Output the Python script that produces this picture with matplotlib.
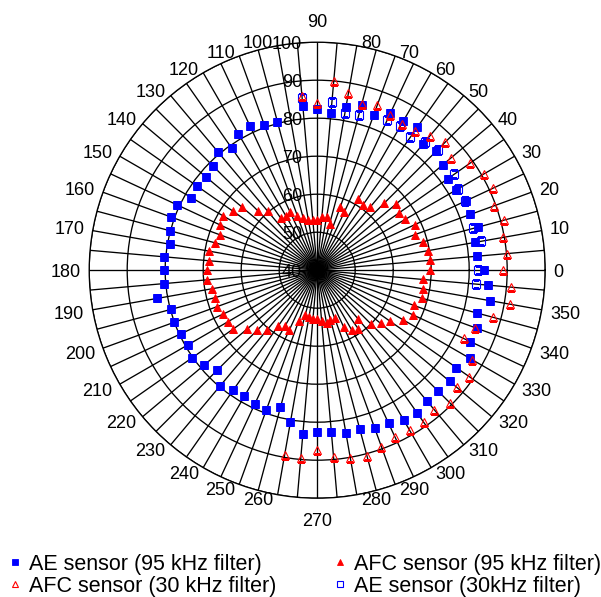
import numpy as np
import matplotlib.pyplot as plt
from matplotlib import transforms

plt.rcParams['font.family'] = ['Liberation Sans', 'DejaVu Sans']

# AE sensor, 95 kHz filter (no point at 100 deg)
ang_ae95 = [0, 5, 10, 15, 20, 25, 30, 35, 40, 45, 50, 55, 60, 65, 70, 75, 80, 85, 90, 95,
            105, 110, 115, 120, 125, 130, 135, 140, 145, 150, 155, 160, 165, 170, 175,
            180, 185, 190, 195, 200, 205, 210, 215, 220, 225, 230, 235, 240, 245, 250,
            255, 260, 265, 270, 275, 280, 285, 290, 295, 300, 305, 310, 315, 320, 325,
            330, 335, 340, 345, 350, 355]
ae95 = [84.0, 82.3, 82.3, 83.7, 82.9, 83.1, 82.1, 82.0, 83.1, 84.2, 83.4, 86.0, 85.2, 85.6,
        83.6, 85.1, 83.6, 81.6, 82.3, 83.5,
        80.5, 80.8, 81.9, 81.5, 79.2, 80.7, 78.6, 78.2, 78.5, 78.2, 80.8, 80.9, 80.2, 79.3,
        80.5, 80.2, 80.5, 82.8, 79.9, 80.0, 79.5, 79.3, 80.3, 78.8, 77.2, 79.8, 78.6, 78.3,
        78.8, 79.2, 77.4, 80.5, 83.4, 82.6, 82.8, 83.5, 83.2, 84.1, 84.5, 85.6, 85.8, 84.8,
        85.0, 85.5, 84.7, 86.4, 84.5, 84.8, 83.5, 86.2, 85.0]

# AFC sensor, 95 kHz filter
ang_afc95 = list(range(0, 360, 5))
afc95 = [69.8, 69.9, 69.6, 68.8, 67.3, 68.3, 66.7, 66.4, 66.9, 64.9, 61.7, 61.1, 61.5, 56.9,
         57.8, 52.7, 54.2, 54.0, 53.2, 53.3, 53.5, 54.2, 55.2, 57.0, 56.6, 56.8, 60.3, 62.2,
         65.7, 67.0, 68.6, 68.1, 67.1, 67.9, 68.8, 68.7, 69.0, 69.0, 68.0, 67.9, 68.2, 67.3,
         67.0, 67.1, 64.1, 62.3, 60.6, 58.0, 57.0, 57.4, 54.1, 52.3, 52.4, 52.8, 52.8, 53.5,
         54.2, 53.5, 53.5, 56.5, 58.2, 58.8, 56.8, 60.1, 61.8, 63.4, 66.1, 67.7, 67.0, 68.5,
         68.2, 68.0]

# AFC sensor, 30 kHz filter
ang_afc30 = [260, 265, 270, 275, 280, 285, 290, 295, 300, 305, 310, 315, 320, 325, 330,
             335, 340, 345, 350, 355, 0, 5, 10, 15, 20, 25, 30, 35, 40, 45, 50, 55, 60,
             65, 70, 75, 80, 85, 90, 95]
afc30 = [89.5, 89.6, 87.4, 89.3, 90.2, 90.7, 89.4, 88.3, 88.6, 88.9, 87.9, 89.5, 88.0, 88.8,
         87.1, 82.5, 84.3, 87.9, 91.6, 91.2, 89.0, 90.1, 89.7, 90.9, 89.5, 91.0, 90.8, 89.0,
         85.9, 87.7, 86.2, 84.8, 84.4, 85.2, 86.2, 85.3, 87.4, 90.1, 84.1, 86.0]

# AE sensor, 30 kHz filter
ang_ae30 = [355, 0, 10, 15, 25, 30, 35, 45, 50, 55, 60, 65, 75, 80, 85, 95]
ae30 = [81.9, 82.4, 83.9, 82.4, 82.8, 82.9, 84.1, 84.9, 84.2, 82.7, 83.8, 83.7, 82.4, 82.1,
        84.4, 85.5]

theta_labels = [str(a) for a in range(0, 360, 10)]
r_ticks = [40, 50, 60, 70, 80, 90, 100]

fs = 13
px = fs * 100 / 72          # font size in pixels
digit_h = 0.716 * px        # height of a digit in pixels

fig = plt.figure(figsize=(6.01, 5.97), dpi=100)
ax = fig.add_axes([89.2 / 601, 98.8 / 597, 456 / 601, 456 / 597], projection='polar')
ax.set_ylim(40, 100)
ax.set_xticks(np.deg2rad(np.arange(0, 360, 5)))
ax.set_xticklabels([])
ax.set_yticks(r_ticks[1:])
ax.set_yticklabels([])
ax.tick_params(length=0)
ax.grid(True, color='black', lw=0.95)
ax.spines['polar'].set_linewidth(0.95)

h1, = ax.plot(np.deg2rad(ang_ae95), ae95, 's', ms=5.2, color='blue', mew=0.6,
              label='AE sensor (95 kHz filter)')
h2, = ax.plot(np.deg2rad(ang_afc95), afc95, '^', ms=6, color='red', mew=0.6,
              label='AFC sensor (95 kHz filter)')
h4, = ax.plot(np.deg2rad(ang_ae30), ae30, 's', ms=5.3, mfc='none', mec='blue', mew=0.8,
              label='AE sensor (30kHz filter)')
h3, = ax.plot(np.deg2rad(ang_afc30), afc30, '^', ms=6.2, mfc='none', mec='red', mew=0.8,
              label='AFC sensor (30 kHz filter)')

# radial labels along the 90 deg spoke, left of the line
off = ax.transData + transforms.Affine2D().translate(-15, -digit_h / 2)
for v in r_ticks:
    ax.text(np.pi / 2, v, str(v), transform=off, ha='right', va='baseline', fontsize=fs)

# angle labels: nearest corner of the text sits just outside the ring,
# nudged a little towards the horizontal axis
for lab in theta_labels:
    deg = int(lab)
    a = np.deg2rad(deg)
    c, s = np.cos(a), np.sin(a)
    if abs(c) < 1e-6:
        c = 0.0
    if abs(s) < 1e-6:
        s = 0.0
    g = 15 if c == 0 else 10 * c ** 2 - 2
    a_pos = a - np.deg2rad(1.2) * np.sign(np.round(np.sin(2 * a), 6))
    cp, sp = np.cos(a_pos), np.sin(a_pos)
    ha = 'left' if c > 0 else ('right' if c < 0 else 'center')
    yoff = 0 if s > 0 else (-digit_h if s < 0 else -digit_h / 2)
    tr = ax.transData + transforms.Affine2D().translate(g * cp, g * sp + yoff)
    ax.text(a_pos, 100, lab, transform=tr, ha=ha, va='baseline', fontsize=fs)

fig.legend([h1, h3, h2, h4], [h.get_label() for h in [h1, h3, h2, h4]],
           loc='upper left', bbox_to_anchor=(0.0078, 0.0725), ncol=2, frameon=False,
           fontsize=15.5, handlelength=1.0, handletextpad=0.13, columnspacing=2.46,
           labelspacing=0.05, borderpad=0, borderaxespad=0, markerscale=0.7)

fig.savefig('out.png', dpi=100)
